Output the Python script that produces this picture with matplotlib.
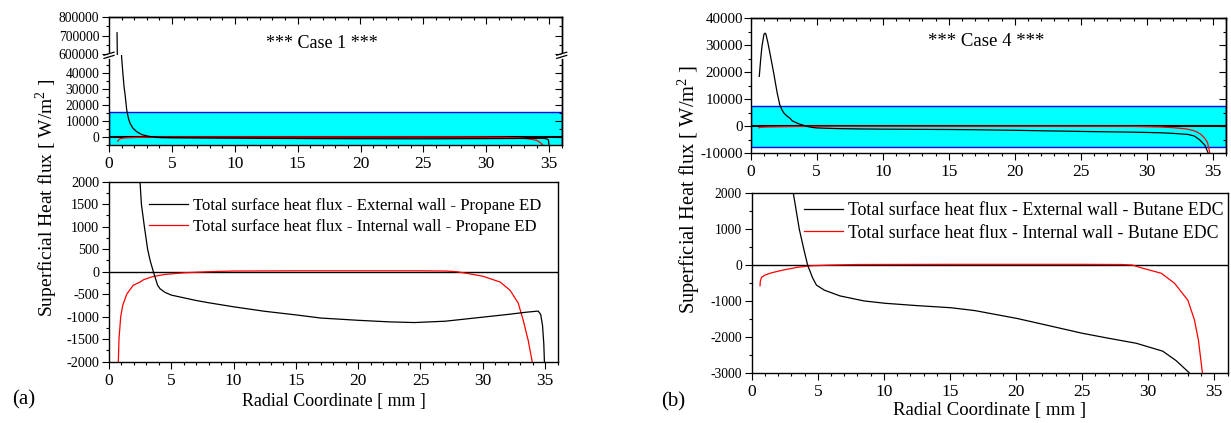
import numpy as np
import matplotlib
matplotlib.use("Agg")
import matplotlib.pyplot as plt
from matplotlib.lines import Line2D
from matplotlib.ticker import MultipleLocator, FixedLocator

plt.rcParams['font.family'] = ['Liberation Serif', 'DejaVu Serif']
plt.rcParams['mathtext.fontset'] = 'custom'
plt.rcParams['mathtext.rm'] = 'Liberation Serif'
plt.rcParams['axes.linewidth'] = 1.0
plt.rcParams['axes.unicode_minus'] = False

# --- DATI ---
# Case 1 - Propane ED
c1_ext_x = [0.64, 0.66, 0.85, 1.0, 1.1, 1.2, 1.27, 1.41, 1.55, 1.67, 1.9, 2.2, 2.49, 2.6, 2.84,
            3.1, 3.3, 3.56, 3.9, 4.1, 4.5, 5.0, 6.0, 7.0, 8.0, 10.0, 12.5, 15.0, 17.0, 20.0, 22.5,
            24.5, 27.0, 30.0, 32.0, 33.5, 34.45, 34.65, 34.8, 34.9, 34.95, 35.0]
c1_ext_y = [715000, 600000, 150000, 50000, 40000, 31000, 27000, 16800, 11500, 8500, 5500, 3300,
            2000, 1500, 1000, 500, 250, 0, -300, -380, -460, -520, -580, -640, -690, -780, -880,
            -960, -1030, -1080, -1115, -1130, -1100, -1010, -950, -900, -875, -950, -1200, -1600,
            -2000, -5500]
c1_int_x = [0.70, 0.75, 0.80, 0.94, 1.1, 1.42, 1.95, 2.5, 2.76, 3.5, 4.5, 6.0, 8.0, 10.0, 15.0,
            20.0, 25.0, 27.0, 27.9, 29.0, 30.0, 31.4, 32.2, 32.85, 33.25, 33.65, 33.97, 34.3, 34.55]
c1_int_y = [-2600, -2000, -1500, -1000, -750, -500, -300, -230, -180, -110, -60, -25, 0, 15, 20,
            20, 20, 15, 0, -50, -100, -230, -415, -700, -1080, -1530, -2000, -3500, -5500]

# Case 4 - Butane EDC
c4_ext_x = [0.65, 0.7, 0.75, 0.85, 1.0, 1.08, 1.15, 1.3, 1.5, 1.75, 2.0, 2.2, 2.35, 2.5, 2.7,
            2.97, 3.15, 3.6, 3.97, 4.23, 4.6, 4.9, 5.5, 6.68, 8.5, 10.08, 12.5, 15.1, 16.9, 20.1,
            22.5, 25.0, 27.0, 29.1, 31.1, 32.1, 33.1, 33.6, 34.0, 34.4, 34.7]
c4_ext_y = [18500, 21500, 24500, 29500, 34000, 34500, 34200, 31000, 26000, 19500, 12500, 8000,
            6300, 5000, 4000, 3000, 2000, 1000, 400, 0, -350, -560, -700, -860, -1000, -1065,
            -1130, -1190, -1270, -1490, -1690, -1900, -2040, -2180, -2400, -2660, -3000, -3600,
            -5000, -7000, -10500]
c4_int_x = [0.63, 0.65, 0.75, 1.0, 1.5, 2.5, 3.5, 4.5, 6.0, 8.0, 15.0, 20.0, 25.0, 28.0, 28.8,
            29.6, 31.0, 32.0, 33.0, 33.5, 33.8, 34.1, 34.4, 34.6, 34.8]
c4_int_y = [-577, -450, -340, -280, -215, -130, -60, -20, 0, 15, 20, 20, 20, 15, 0, -90, -230,
            -510, -980, -1530, -2090, -3000, -4500, -6000, -10500]

band_c1 = (-6000, 15800)
band_c4 = (-7600, 7600)

lab_ext_c1 = "Total surface heat flux - External wall - Propane ED"
lab_int_c1 = "Total surface heat flux - Internal wall - Propane ED"
lab_ext_c4 = "Total surface heat flux - External wall - Butane EDC"
lab_int_c4 = "Total surface heat flux - Internal wall - Butane EDC"

W, H = 1231, 423
fig = plt.figure(figsize=(W / 100, H / 100), dpi=100)


def px_axes(x0, x1, ytop, ybot):
    return fig.add_axes([x0 / W, 1 - ybot / H, (x1 - x0) / W, (ybot - ytop) / H])


def add_out_ticks(ax, xlab=True, ysize=10, xsize=12.5, top_in=True, right_in=True, ypad=2):
    # left/bottom ticks outside, top/right inside (stile Origin)
    ax.set_xlim(0, 36)
    ax.xaxis.set_major_locator(MultipleLocator(5))
    ax.xaxis.set_minor_locator(MultipleLocator(1))
    ax.tick_params(which='major', length=5, width=0.8)
    ax.tick_params(which='minor', length=2.5, width=0.8)
    ax.tick_params(axis='y', which='both', direction='out', labelsize=ysize, pad=ypad)
    ax.tick_params(axis='x', which='both', direction='out', labelsize=xsize, pad=3, labelbottom=xlab)
    if top_in:
        sec = ax.secondary_xaxis('top')
        sec.xaxis.set_major_locator(MultipleLocator(5))
        sec.xaxis.set_minor_locator(MultipleLocator(1))
        sec.tick_params(which='major', direction='in', length=5, width=0.8, labeltop=False)
        sec.tick_params(which='minor', direction='in', length=2.5, width=0.8)
    if right_in:
        sy = ax.secondary_yaxis('right')
        sy.yaxis.set_major_locator(ax.yaxis.get_major_locator())
        sy.yaxis.set_minor_locator(ax.yaxis.get_minor_locator())
        sy.tick_params(which='major', direction='in', length=5, width=0.8, labelright=False)
        sy.tick_params(which='minor', direction='in', length=2.5, width=0.8)


# ================= (a) Case 1 =================
# asse superiore spezzato
ax_a_top = px_axes(109, 561.7, 17, 55.3)
ax_a_bot = px_axes(109, 561.7, 55.3, 145)
for ax in (ax_a_top, ax_a_bot):
    ax.axhspan(*band_c1, facecolor='#00ffff', edgecolor='#0000ff', lw=1.0, zorder=0)
    ax.axhline(0, color='black', lw=1.5, zorder=1)
    ax.plot(c1_ext_x, c1_ext_y, color='black', lw=0.9, zorder=3)
    ax.plot(c1_int_x, c1_int_y, color='red', lw=0.9, zorder=2)
ax_a_top.set_ylim(593000, 800000)
ax_a_bot.set_ylim(-5000, 50840)
ax_a_top.yaxis.set_major_locator(FixedLocator([600000, 700000, 800000]))
ax_a_top.yaxis.set_minor_locator(FixedLocator([650000, 750000]))
ax_a_bot.yaxis.set_major_locator(FixedLocator([0, 10000, 20000, 30000, 40000]))
ax_a_bot.yaxis.set_minor_locator(MultipleLocator(5000))
ax_a_top.spines['bottom'].set_visible(False)
ax_a_bot.spines['top'].set_visible(False)
add_out_ticks(ax_a_top, xlab=False, ysize=9.8, top_in=True, right_in=True)
ax_a_top.tick_params(axis='x', which='both', bottom=False)
add_out_ticks(ax_a_bot, xlab=True, ysize=9.8, top_in=False, right_in=True)
fig.text(322 / W, 1 - 43 / H, "*** Case 1 ***", fontsize=13, ha='center', va='center')

# segni di interruzione
for xx in (109, 561.7):
    fig.add_artist(Line2D([xx / W, xx / W], [1 - 57.0 / H, 1 - 53.6 / H], color='white', lw=2.0))
    for dy in (-1.6, 1.6):
        yy = 55.3 + dy
        fig.add_artist(Line2D([(xx - 5) / W, (xx + 5) / W], [1 - (yy + 1.5) / H, 1 - (yy - 1.5) / H],
                              color='black', lw=0.9))

ax_a = px_axes(109, 557.5, 181.7, 361.7)
ax_a.axhline(0, color='black', lw=1.0, zorder=1)
ax_a.plot(c1_ext_x, c1_ext_y, color='black', lw=0.9, label=lab_ext_c1, zorder=3)
ax_a.plot(c1_int_x, c1_int_y, color='red', lw=0.9, label=lab_int_c1, zorder=2)
ax_a.set_ylim(-2000, 2000)
ax_a.yaxis.set_major_locator(MultipleLocator(500))
ax_a.yaxis.set_minor_locator(MultipleLocator(250))
add_out_ticks(ax_a, xlab=True, ysize=10.3, top_in=False, right_in=False)
ax_a.legend(loc='upper left', bbox_to_anchor=(0.089, 0.91), frameon=False, fontsize=12.1,
            handlelength=2.3, handletextpad=0.3, labelspacing=0.3, borderpad=0, borderaxespad=0)

# ================= (b) Case 4 =================
ax_b_top = px_axes(750.7, 1226, 18.3, 153.3)
ax_b_top.axhspan(*band_c4, facecolor='#00ffff', edgecolor='#0000ff', lw=1.0, zorder=0)
ax_b_top.axhline(0, color='black', lw=1.5, zorder=1)
ax_b_top.plot(c4_ext_x, c4_ext_y, color='black', lw=0.9, zorder=3)
ax_b_top.plot(c4_int_x, c4_int_y, color='red', lw=0.9, zorder=2)
ax_b_top.set_ylim(-10000, 40000)
ax_b_top.yaxis.set_major_locator(MultipleLocator(10000))
ax_b_top.yaxis.set_minor_locator(MultipleLocator(5000))
add_out_ticks(ax_b_top, xlab=True, ysize=10.8, top_in=True, right_in=True, ypad=0.5)
fig.text(986 / W, 1 - 42 / H, "*** Case 4 ***", fontsize=13.5, ha='center', va='center')

ax_b = px_axes(751.7, 1227.5, 193.3, 372.7)
ax_b.axhline(0, color='black', lw=1.0, zorder=1)
ax_b.plot(c4_ext_x, c4_ext_y, color='black', lw=0.9, label=lab_ext_c4, zorder=3)
ax_b.plot(c4_int_x, c4_int_y, color='red', lw=0.9, label=lab_int_c4, zorder=2)
ax_b.set_ylim(-3000, 2000)
ax_b.yaxis.set_major_locator(MultipleLocator(1000))
ax_b.yaxis.set_minor_locator(MultipleLocator(500))
add_out_ticks(ax_b, xlab=True, ysize=9.8, top_in=False, right_in=False)
ax_b.legend(loc='upper left', bbox_to_anchor=(0.11, 0.95), frameon=False, fontsize=12.8,
            handlelength=2.2, handletextpad=0.3, labelspacing=0.3, borderpad=0, borderaxespad=0)

# --- etichette ---
ylab = r"Superficial Heat flux [ W/m$^{2}$ ]"
fig.text(47 / W, 1 - 198 / H, ylab, rotation=90, fontsize=14, ha='center', va='center')
fig.text(689 / W, 1 - 190 / H, ylab, rotation=90, fontsize=14.7, ha='center', va='center')
fig.text(334 / W, 1 - 401 / H, "Radial Coordinate [ mm ]", fontsize=12.9, ha='center', va='center')
fig.text(990 / W, 1 - 410 / H, "Radial Coordinate [ mm ]", fontsize=13.5, ha='center', va='center')
fig.text(24 / W, 1 - 400 / H, "(a)", fontsize=15, ha='center', va='center')
fig.text(673 / W, 1 - 402 / H, "(b)", fontsize=15, ha='center', va='center')

fig.savefig("out.png", dpi=100)
